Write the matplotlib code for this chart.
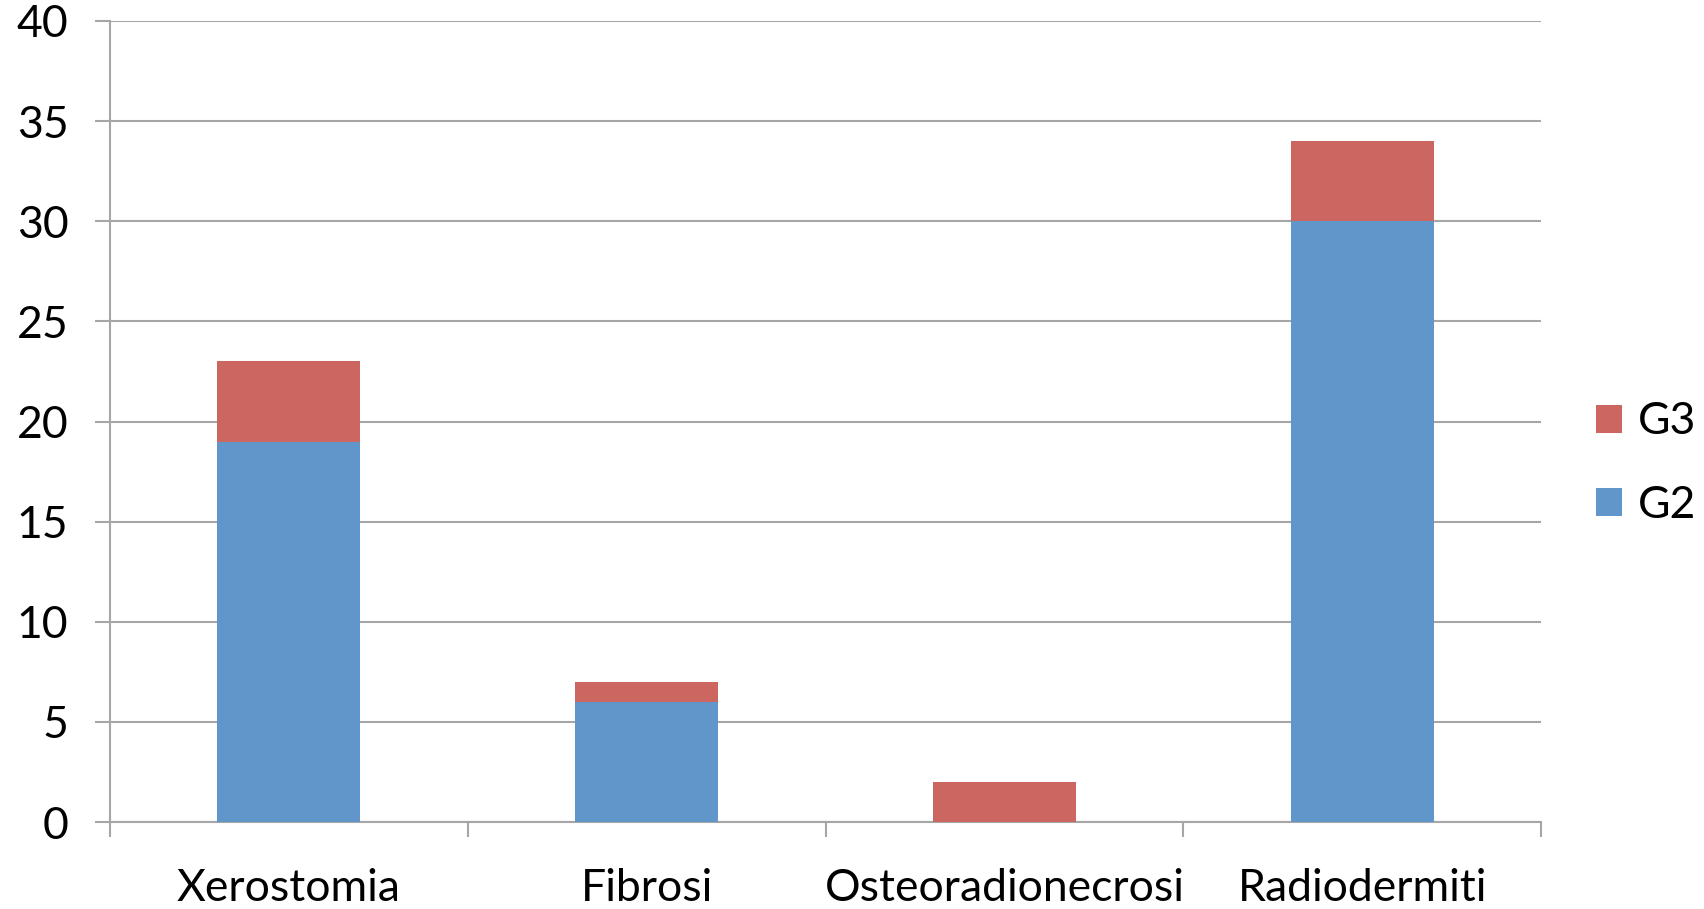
import numpy as np
import matplotlib.pyplot as plt

categories = ["Xerostomia", "Fibrosi", "Osteoradionecrosi", "Radiodermiti"]
g2 = [19, 6, 0, 30]
g3 = [4, 1, 2, 4]

blue = "#6096C9"
red = "#CC6660"
grid_gray = "#A6A6A6"

plt.rcParams["font.family"] = ["Lato", "DejaVu Sans"]

fig = plt.figure(figsize=(17.04, 9.09), dpi=100)
ax = fig.add_axes([0.0646, 0.0957, 0.8397, 0.8812])

x = np.arange(len(categories))
b2 = ax.bar(x, g2, width=0.4, color=blue, label="G2", zorder=3)
b3 = ax.bar(x, g3, width=0.4, bottom=g2, color=red, label="G3", zorder=3)

ax.set_xlim(-0.5, len(categories) - 0.5)
ax.set_ylim(0, 40)
ax.set_yticks(np.arange(0, 41, 5))
ax.yaxis.grid(True, color=grid_gray, linewidth=1.5, zorder=0)

# category boundaries get the tick marks, labels sit in the middle
ax.set_xticks(np.arange(-0.5, len(categories), 1.0))
ax.set_xticklabels([])
ax.set_xticks(x, minor=True)
ax.set_xticklabels(categories, minor=True)
ax.tick_params(axis="x", which="major", length=11, width=1.5, color=grid_gray, direction="out")
ax.tick_params(axis="x", which="minor", length=0, pad=33, labelsize=32)
ax.tick_params(axis="y", length=11, width=1.5, color=grid_gray, pad=19, labelsize=32)

for side in ["top", "right"]:
    ax.spines[side].set_visible(False)
for side in ["left", "bottom"]:
    ax.spines[side].set_color(grid_gray)
    ax.spines[side].set_linewidth(1.5)

fig.legend([b3, b2], ["G3", "G2"], loc="center left", bbox_to_anchor=(0.926, 0.49),
           frameon=False, fontsize=32, handlelength=0.6, handleheight=0.6,
           handletextpad=0.35, labelspacing=0.95, borderaxespad=0)

fig.savefig("out.png", dpi=100)
